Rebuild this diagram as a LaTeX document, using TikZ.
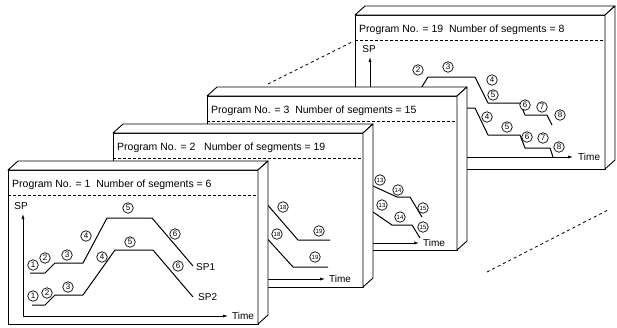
\documentclass[tikz,border=0pt]{standalone}
\usepackage{fontspec}
\setmainfont{Liberation Sans}
\usetikzlibrary{arrows.meta}

\tikzset{
  slab/.style={draw,fill=white,line width=0.9pt,line join=round},
  hdr/.style={anchor=west,inner sep=0pt,font=\fontsize{10.5}{12}\selectfont},
  seg/.style={circle,draw,fill=white,line width=0.7pt,inner sep=0pt,minimum size=10.5pt,font=\fontsize{8}{8}\selectfont},
  seg2/.style={seg,font=\fontsize{6}{6}\selectfont},
  spline/.style={line width=1pt,line join=round},
  axis/.style={line width=0.6pt,-{Latex[length=5pt,width=3pt]}},
  lbl/.style={inner sep=1pt,font=\fontsize{10}{10}\selectfont},
  persp/.style={line width=0.8pt,dash pattern=on 3pt off 3pt},
}

% one program slab: #1 name, #2 header text
\newcommand{\progbox}[2]{%
  \filldraw[slab] (0,0) rectangle (250,154);
  \filldraw[slab] (0,0) -- (10,-9) -- (260,-9) -- (250,0) -- cycle;
  \filldraw[slab] (250,0) -- (260,-9) -- (260,145) -- (250,154) -- cycle;
  \node[hdr] (#1-hdr) at (4,15) {#2};
  \draw[line width=0.7pt,dash pattern=on 3pt off 2pt] (0,25) -- (250,25);
}

\begin{document}
\begin{tikzpicture}[x=1pt,y=-1pt]
\useasboundingbox (0,0) rectangle (617,327);

% perspective lines
\coordinate (u1) at (268,84);
\coordinate (u2) at (352,42);
\coordinate (l1) at (487,272);
\coordinate (l2) at (608,210);
\draw[persp] (u1) -- (u2);
\draw[persp] (l1) -- (l2);

% program 19
\begin{scope}[shift={(355,15)}]
  \progbox{p19}{Program No. = 19\ \ Number of segments = 8}
  \node[lbl] (p19-sp) at (14,34) {SP};
  \coordinate (p19-o) at (15,142);
  \draw[axis] (p19-o) -- (15,42);
  \draw[axis] (p19-o) -- (218,142);
  \node[lbl,anchor=west] (p19-t) at (222,142) {Time};
  \draw[spline] (60,83) -- (73,62) -- (120,62) -- (133,88) -- (165,88)
    -- (170,100) -- (192,100) -- (197,110);
  \draw[spline] (40,93) -- (120,93) -- (133,120) -- (165,120) -- (170,133)
    -- (195,133) -- (198,142);
  \node[seg] (a2) at (63,55) {2};
  \node[seg] (a3) at (93,52) {3};
  \node[seg] (a4) at (137,65) {4};
  \node[seg] (a5) at (138,80) {5};
  \node[seg] (a6) at (170,90) {6};
  \node[seg] (a7) at (187,92) {7};
  \node[seg] (a8) at (205,100) {8};
  \node[seg] (b4) at (132,102) {4};
  \node[seg] (b5) at (152,112) {5};
  \node[seg] (b6) at (172,122) {6};
  \node[seg] (b7) at (188,123) {7};
  \node[seg] (b8) at (204,132) {8};
\end{scope}

% program 3
\begin{scope}[shift={(207,96)}]
  \progbox{p3}{Program No. = 3\ \ Number of segments = 15}
  \draw[axis] (15,147) -- (212,147);
  \node[lbl,anchor=west] (p3-t) at (215,147) {Time};
  \draw[spline] (140,80) -- (166,90) -- (190,101) -- (203,101) -- (215,121);
  \draw[spline] (140,105) -- (166,116) -- (185,129) -- (205,129) -- (213,142);
  \node[seg2] (c13) at (173,84) {13};
  \node[seg2] (c14) at (191,94) {14};
  \node[seg2] (c15) at (216,112) {15};
  \node[seg2] (d13) at (175,109) {13};
  \node[seg2] (d14) at (193,121) {14};
  \node[seg2] (d15) at (216,131) {15};
\end{scope}

% program 2
\begin{scope}[shift={(113,133)}]
  \progbox{p2}{Program No. = 2\ \ \ Number of segments = 19}
  \draw[axis] (15,146) -- (212,146);
  \node[lbl,anchor=west] (p2-t) at (215,146) {Time};
  \draw[spline] (140,55) -- (185,107) -- (217,107);
  \draw[spline] (140,90) -- (180,134) -- (215,134);
  \node[seg2] (e18) at (170,74) {18};
  \node[seg2] (e19) at (206,98) {19};
  \node[seg2] (f18) at (164,101) {18};
  \node[seg2] (f19) at (202,124) {19};
\end{scope}

% program 1
\begin{scope}[shift={(8,170)}]
  \progbox{p1}{Program No. = 1\ \ Number of segments = 6}
  \node[lbl] (p1-sp) at (13,36) {SP};
  \coordinate (p1-o) at (15,146);
  \draw[axis] (p1-o) -- (15,44);
  \draw[axis] (p1-o) -- (220,146);
  \node[lbl,anchor=west] (p1-t) at (223,146) {Time};
  \draw[spline] (22,103) -- (37,103) -- (47,93) -- (75,93) -- (99,48) -- (144,48) -- (185,96);
  \draw[spline] (24,135) -- (37,135) -- (47,125) -- (75,125) -- (107,80) -- (145,80) -- (185,127);
  \node[lbl,anchor=west] (sp1) at (187,97) {SP1};
  \node[lbl,anchor=west] (sp2) at (189,127) {SP2};
  \node[seg] (g1) at (25,95) {1};
  \node[seg] (g2) at (37,88) {2};
  \node[seg] (g3) at (59,85) {3};
  \node[seg] (g4) at (78,66) {4};
  \node[seg] (g5) at (120,38) {5};
  \node[seg] (g6) at (167,64) {6};
  \node[seg] (h1) at (25,126) {1};
  \node[seg] (h2) at (39,123) {2};
  \node[seg] (h3) at (60,117) {3};
  \node[seg] (h4) at (94,87) {4};
  \node[seg] (h5) at (122,72) {5};
  \node[seg] (h6) at (170,96) {6};
\end{scope}
\end{tikzpicture}
\end{document}
